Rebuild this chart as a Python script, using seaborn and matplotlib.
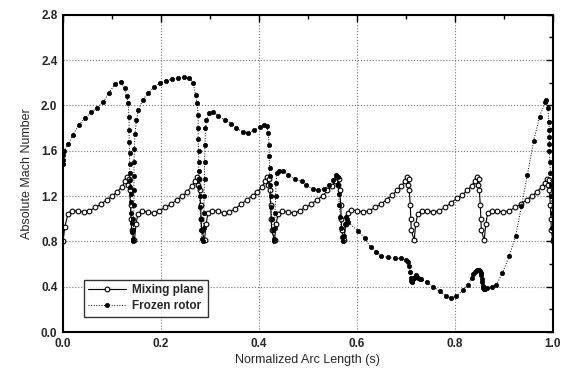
import matplotlib
matplotlib.use("Agg")
import matplotlib.pyplot as plt
from matplotlib.ticker import MultipleLocator
import numpy as np
import pandas as pd
import seaborn as sns

# ---------------- data ----------------
mp_s = [
    0.000, 0.004, 0.010, 0.018, 0.030, 0.042, 0.054, 0.066, 0.078, 0.090, 0.101, 0.111, 0.120, 0.127, 0.131, 0.133, 0.135, 0.136, 0.138, 0.139, 0.140,
    0.146, 0.149, 0.153, 0.161, 0.173, 0.185, 0.197, 0.209, 0.221, 0.233, 0.244, 0.254, 0.263, 0.270, 0.274, 0.276, 0.278, 0.279, 0.281, 0.282, 0.283,
    0.289, 0.292, 0.296, 0.304, 0.316, 0.328, 0.340, 0.352, 0.364, 0.376, 0.387, 0.397, 0.406, 0.413, 0.417, 0.419, 0.421, 0.422, 0.424, 0.425, 0.426,
    0.432, 0.435, 0.439, 0.447, 0.459, 0.471, 0.483, 0.495, 0.507, 0.519, 0.530, 0.540, 0.549, 0.556, 0.560, 0.562, 0.564, 0.565, 0.567, 0.568, 0.569,
    0.574, 0.577, 0.581, 0.589, 0.601, 0.613, 0.625, 0.637, 0.649, 0.661, 0.672, 0.682, 0.691, 0.698, 0.702, 0.704, 0.706, 0.707, 0.709, 0.710, 0.711,
    0.717, 0.720, 0.724, 0.732, 0.744, 0.756, 0.768, 0.780, 0.792, 0.804, 0.815, 0.825, 0.834, 0.841, 0.845, 0.847, 0.849, 0.850, 0.852, 0.853, 0.854,
    0.860, 0.863, 0.867, 0.875, 0.887, 0.899, 0.911, 0.923, 0.935, 0.947, 0.958, 0.968, 0.977, 0.984, 0.988, 0.990, 0.992, 0.993, 0.995, 0.996, 0.997,
    1.000,
]
mp_m = [
    0.80, 0.93, 1.04, 1.07, 1.07, 1.06, 1.07, 1.10, 1.13, 1.17, 1.20, 1.24, 1.28, 1.33, 1.37, 1.30, 1.35, 1.25, 1.12, 1.00, 0.90,
    0.81, 0.95, 1.04, 1.07, 1.06, 1.05, 1.07, 1.10, 1.13, 1.17, 1.20, 1.24, 1.29, 1.33, 1.37, 1.30, 1.35, 1.25, 1.12, 1.00, 0.90,
    0.81, 0.95, 1.05, 1.07, 1.07, 1.05, 1.06, 1.09, 1.13, 1.17, 1.20, 1.24, 1.28, 1.33, 1.37, 1.30, 1.35, 1.25, 1.12, 1.00, 0.90,
    0.81, 0.95, 1.04, 1.07, 1.06, 1.05, 1.07, 1.10, 1.13, 1.17, 1.20, 1.25, 1.29, 1.33, 1.37, 1.30, 1.35, 1.25, 1.12, 1.00, 0.90,
    0.81, 0.95, 1.05, 1.08, 1.07, 1.06, 1.07, 1.10, 1.13, 1.17, 1.21, 1.25, 1.29, 1.33, 1.37, 1.30, 1.35, 1.25, 1.12, 1.00, 0.90,
    0.81, 0.95, 1.04, 1.07, 1.07, 1.06, 1.07, 1.10, 1.14, 1.18, 1.21, 1.25, 1.29, 1.33, 1.37, 1.30, 1.35, 1.25, 1.12, 1.00, 0.90,
    0.81, 0.95, 1.05, 1.07, 1.07, 1.06, 1.07, 1.10, 1.13, 1.17, 1.20, 1.24, 1.28, 1.32, 1.35, 1.30, 1.34, 1.25, 1.12, 1.00, 0.90,
    0.80,
]

fr_s = [
    0.000, 0.000, 0.001, 0.002, 0.011, 0.020, 0.033, 0.045, 0.058, 0.070, 0.082, 0.094, 0.106, 0.118, 0.126, 0.130, 0.133,
    0.135, 0.135, 0.135, 0.136, 0.136, 0.136, 0.137, 0.137, 0.138, 0.138, 0.139, 0.140, 0.141, 0.142,
    0.143, 0.144, 0.144, 0.145, 0.145, 0.145, 0.145, 0.146, 0.147, 0.150, 0.154, 0.163, 0.174, 0.186, 0.198, 0.210,
    0.222, 0.235, 0.247, 0.258, 0.266, 0.271, 0.274,
    0.276, 0.276, 0.276, 0.277, 0.277, 0.277, 0.278, 0.278, 0.279, 0.280, 0.281, 0.282, 0.284, 0.286,
    0.287, 0.288, 0.288, 0.289, 0.289, 0.290, 0.291, 0.293, 0.298, 0.307, 0.317, 0.331, 0.344, 0.354, 0.367, 0.378,
    0.390, 0.402, 0.410, 0.416, 0.419,
    0.421, 0.421, 0.422, 0.422, 0.423, 0.424, 0.425, 0.426, 0.428, 0.430, 0.431,
    0.432, 0.433, 0.434, 0.435, 0.437, 0.442, 0.450, 0.460, 0.473, 0.487, 0.497, 0.510, 0.521, 0.533, 0.544, 0.552, 0.558,
    0.561, 0.562, 0.563, 0.564, 0.566, 0.568, 0.570, 0.572,
    0.574, 0.576, 0.578, 0.580, 0.582, 0.603, 0.616, 0.628, 0.640, 0.650, 0.664, 0.678, 0.691, 0.701, 0.705, 0.707,
    0.709, 0.710, 0.711, 0.712, 0.713, 0.714, 0.716, 0.718, 0.720, 0.722, 0.725, 0.728, 0.730, 0.743, 0.756, 0.769,
    0.782, 0.793, 0.803, 0.817, 0.827, 0.834, 0.838, 0.841, 0.843, 0.845, 0.847, 0.849, 0.851, 0.853, 0.854, 0.855,
    0.856, 0.857, 0.858, 0.859, 0.860, 0.862, 0.865, 0.875, 0.885, 0.897, 0.911, 0.924, 0.936, 0.948, 0.961, 0.973,
    0.984, 0.987, 0.990, 0.992, 0.993, 0.993, 0.993, 0.993, 0.994, 0.995, 0.996, 0.997, 0.998, 0.999, 1.000,
]
fr_m = [
    1.48, 1.52, 1.56, 1.60, 1.66, 1.74, 1.83, 1.89, 1.94, 1.98, 2.03, 2.11, 2.19, 2.21, 2.15, 2.08, 2.02,
    1.90, 1.78, 1.68, 1.58, 1.48, 1.40, 1.34, 1.28, 1.22, 1.15, 1.05, 0.96, 0.88, 0.82,
    0.80, 0.90, 1.00, 1.12, 1.25, 1.38, 1.50, 1.62, 1.75, 1.87, 1.96, 2.05, 2.11, 2.16, 2.20, 2.22,
    2.23, 2.24, 2.25, 2.24, 2.20, 2.09, 2.02,
    1.92, 1.80, 1.70, 1.60, 1.50, 1.42, 1.35, 1.28, 1.20, 1.10, 1.00, 0.90, 0.82, 0.80,
    0.92, 1.05, 1.20, 1.35, 1.50, 1.65, 1.80, 1.87, 1.93, 1.94, 1.91, 1.87, 1.84, 1.80, 1.77, 1.76,
    1.78, 1.81, 1.83, 1.82, 1.76,
    1.65, 1.55, 1.45, 1.38, 1.30, 1.20, 1.10, 1.00, 0.90, 0.82, 0.80,
    0.92, 1.05, 1.20, 1.32, 1.40, 1.42, 1.42, 1.39, 1.35, 1.33, 1.30, 1.26, 1.25, 1.26, 1.30, 1.34, 1.39,
    1.37, 1.30, 1.22, 1.12, 1.02, 0.92, 0.84, 0.80,
    0.85, 0.95, 1.02, 1.00, 0.97, 0.89, 0.83, 0.75, 0.71, 0.67, 0.66, 0.65, 0.65, 0.64, 0.62, 0.58,
    0.53, 0.48, 0.45, 0.44, 0.45, 0.47, 0.48, 0.49, 0.50, 0.49, 0.48, 0.47, 0.47, 0.44, 0.40, 0.36,
    0.32, 0.30, 0.32, 0.37, 0.42, 0.48, 0.51, 0.53, 0.54, 0.55, 0.55, 0.55, 0.54, 0.52, 0.50, 0.47,
    0.44, 0.41, 0.39, 0.38, 0.38, 0.38, 0.39, 0.40, 0.42, 0.52, 0.67, 0.85, 1.11, 1.39, 1.69, 1.90,
    2.03, 2.05, 1.98, 1.85, 1.78, 1.72, 1.66, 1.60, 1.50, 1.40, 1.30, 1.20, 1.05, 0.92, 0.82,
]

x_ticks = [0.0, 0.2, 0.4, 0.6, 0.8, 1.0]
x_tick_labels = ["0.0", "0.2", "0.4", "0.6", "0.8", "1.0"]
y_ticks = [0.0, 0.4, 0.8, 1.2, 1.6, 2.0, 2.4, 2.8]
y_tick_labels = ["0.0", "0.4", "0.8", "1.2", "1.6", "2.0", "2.4", "2.8"]
series_names = ["Mixing plane", "Frozen rotor"]

# ---------------- plotting ----------------
sns.set_theme(style="white")
plt.rcParams["font.family"] = ["Liberation Sans", "DejaVu Sans"]

fig = plt.figure(figsize=(5.67, 3.8), dpi=100)
ax = fig.add_axes([0.111, 0.126, 0.864, 0.835])

ax.grid(True, which="major", linestyle=":", color="0.45", linewidth=0.8)
ax.set_axisbelow(True)

df_mp = pd.DataFrame({"s": mp_s, "M": mp_m})
df_fr = pd.DataFrame({"s": fr_s, "M": fr_m})

sns.lineplot(data=df_mp, x="s", y="M", sort=False, estimator=None, ax=ax,
             color="black", linewidth=0.8, marker="o", markersize=3.4,
             markerfacecolor="white", markeredgecolor="black",
             markeredgewidth=0.8, label=series_names[0])
sns.lineplot(data=df_fr, x="s", y="M", sort=False, estimator=None, ax=ax,
             color="black", linewidth=0.7, linestyle=":", marker="o",
             markersize=3.1, markerfacecolor="black", markeredgecolor="black",
             markeredgewidth=0.5, label=series_names[1])

ax.set_xlim(0.0, 1.0)
ax.set_ylim(0.0, 2.8)
ax.set_xticks(x_ticks)
ax.set_xticklabels(x_tick_labels, fontsize=8.5, fontweight="bold")
ax.set_yticks(y_ticks)
ax.set_yticklabels(y_tick_labels, fontsize=8.5, fontweight="bold")
ax.xaxis.set_minor_locator(MultipleLocator(0.1))
ax.yaxis.set_minor_locator(MultipleLocator(0.2))
ax.tick_params(which="both", direction="in", top=True, right=True,
               color="black", width=1.0)
ax.tick_params(which="major", length=5, pad=4)
ax.tick_params(which="minor", length=3)
for sp in ax.spines.values():
    sp.set_color("black")
    sp.set_linewidth(1.5)

ax.set_xlabel("Normalized Arc Length (s)", fontsize=9, labelpad=3)
ax.set_ylabel("Absolute Mach Number", fontsize=9, labelpad=6)

leg = ax.legend(loc="lower left", bbox_to_anchor=(0.03, 0.03), fontsize=8.5,
                frameon=True, fancybox=False, edgecolor="black",
                handlelength=3.2, borderpad=0.4, labelspacing=0.3,
                handletextpad=0.5)
leg.get_frame().set_linewidth(1.0)
for t in leg.get_texts():
    t.set_fontweight("bold")

fig.savefig("out.png", dpi=100)
